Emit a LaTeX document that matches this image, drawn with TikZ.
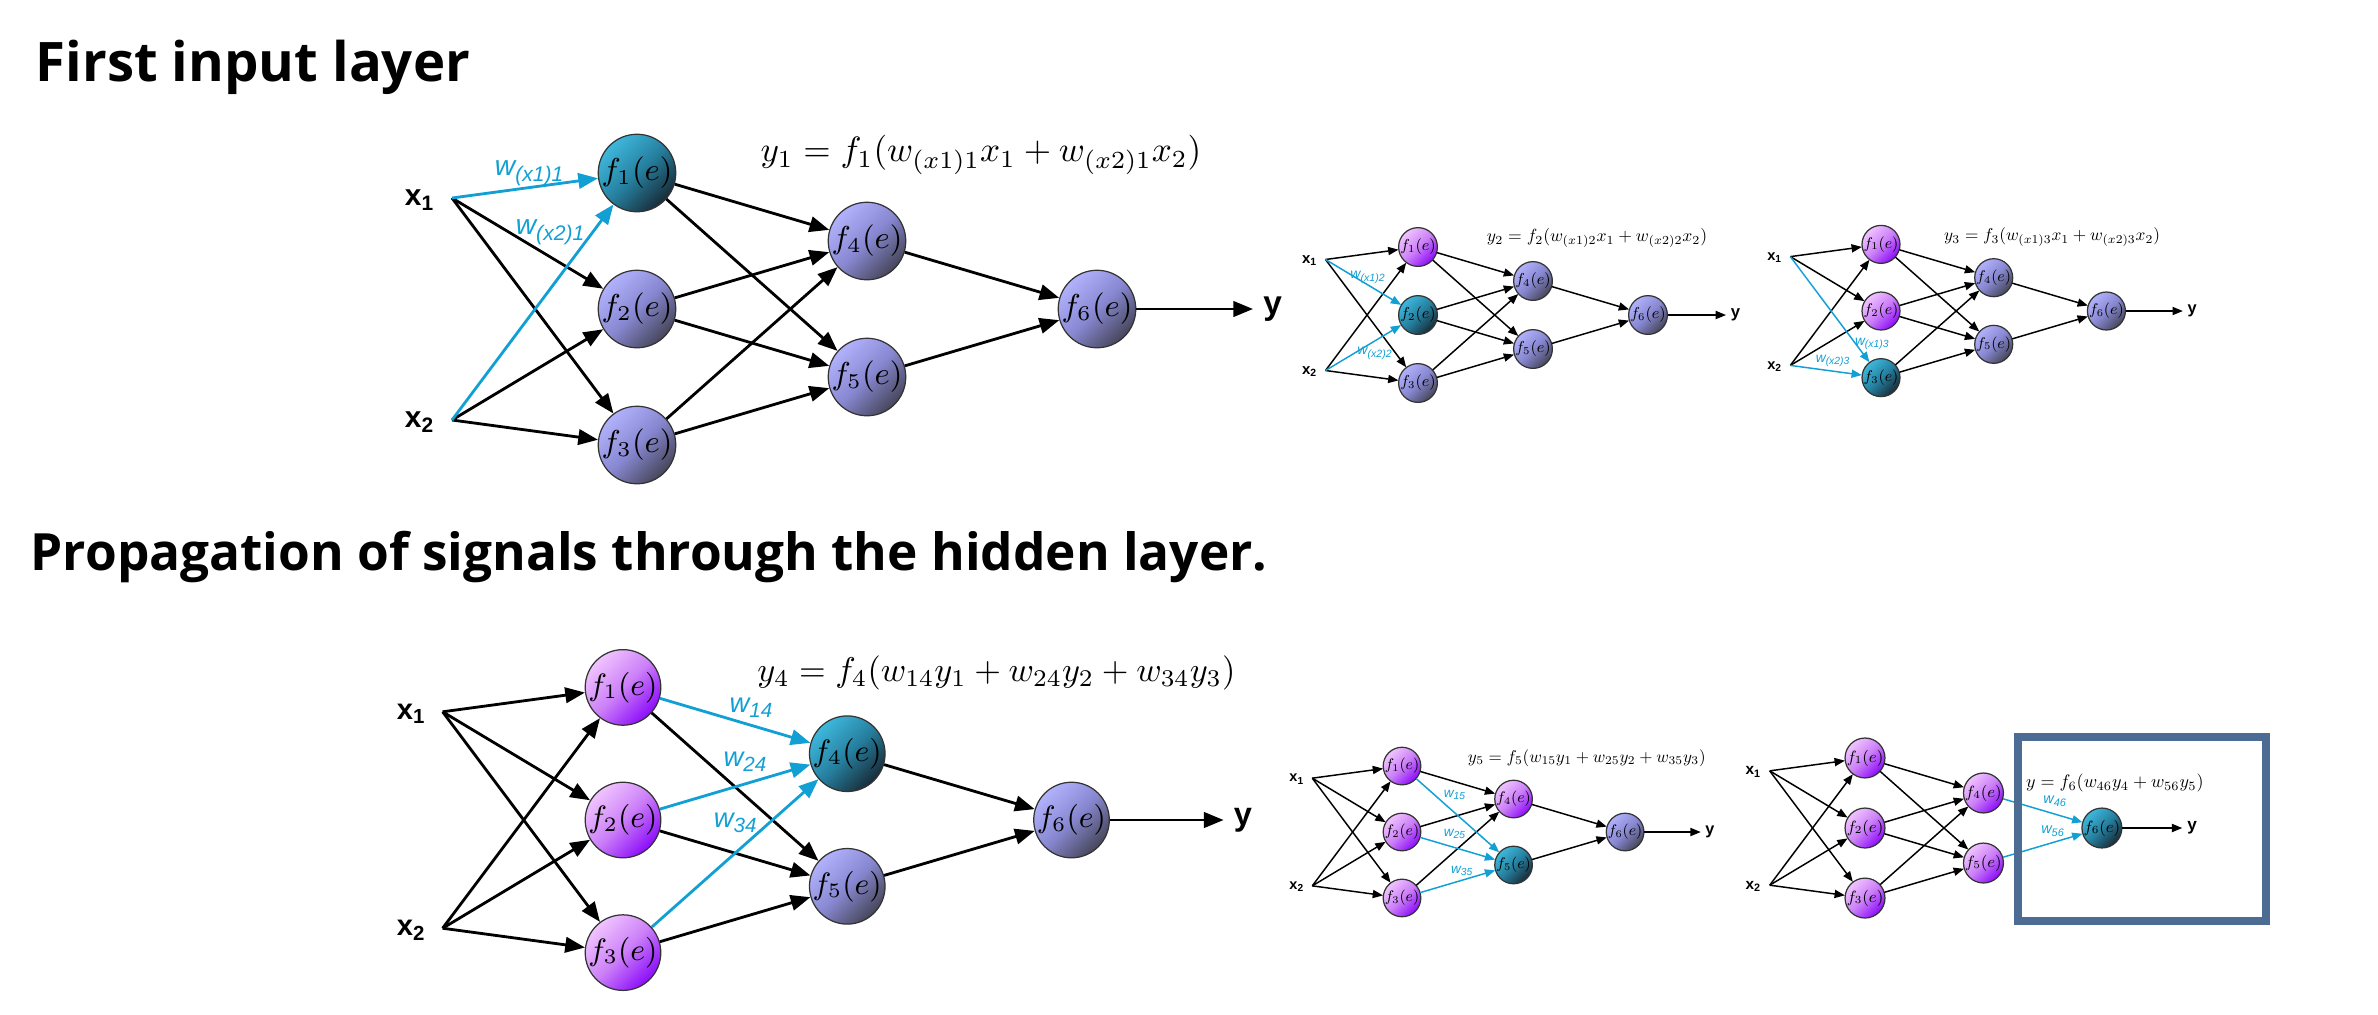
\documentclass[tikz,border=0pt]{standalone}
\usepackage{fontspec}
\usepackage{tikz}
\usetikzlibrary{arrows.meta}
\newfontfamily\headfont{Open Sans}
\newfontfamily\labfont{Liberation Sans}
\definecolor{idleA}{RGB}{178,178,252}
\definecolor{idleM}{RGB}{136,136,210}
\definecolor{idleB}{RGB}{70,70,90}
\definecolor{hotA}{RGB}{62,184,220}
\definecolor{hotM}{RGB}{38,128,160}
\definecolor{hotB}{RGB}{24,44,56}
\definecolor{doneA}{RGB}{240,196,255}
\definecolor{doneM}{RGB}{204,128,248}
\definecolor{doneB}{RGB}{140,12,250}
\definecolor{wblue}{RGB}{18,160,212}
\definecolor{framecol}{RGB}{76,108,148}

\begin{document}
\begin{tikzpicture}[x=0.01cm, y=-0.01cm,
    neuron/.style={circle, draw=black!80, line width=0.35pt, minimum size=0.73cm,
      inner sep=0pt, font=\fontsize{9}{11}\selectfont},
    idle/.style={top color=idleA, bottom color=idleB, middle color=idleM, shading angle=45},
    hot/.style={top color=hotA, bottom color=hotB, middle color=hotM, shading angle=45},
    done/.style={top color=doneA, bottom color=doneB, middle color=doneM, shading angle=45},
    wire/.style={-{Triangle[length=0pt 7, width=0pt 5.5]}, black},
    hotwire/.style={wire, wblue},
    inlabel/.style={inner sep=0pt, font=\labfont\bfseries\fontsize{8.5}{10}\selectfont},
    outlabel/.style={inner sep=0pt, anchor=west, font=\labfont\bfseries\fontsize{9.5}{11}\selectfont},
    wlabel/.style={inner sep=0pt, text=wblue, font=\labfont\itshape\fontsize{8}{9}\selectfont},
    eqn/.style={inner sep=0pt, font=\fontsize{9.6}{12}\selectfont},
    title/.style={inner sep=0pt, anchor=base west, font=\headfont\bfseries\fontsize{14.6}{17}\selectfont},
    frame/.style={draw=framecol, line width=0.08cm}]

    \useasboundingbox (0,0) rectangle (2378,1014);

    % one network, #1 = prefix, #2 = neuron being computed
    \def\net#1#2{%
        \foreach \i/\pos in {1/{(0,-136)},2/{(0,0)},3/{(0,136)},4/{(230,-68)},5/{(230,68)},6/{(460,0)}}{%
            \ifnum\i<#2 \def\look{done}\else\ifnum\i=#2 \def\look{hot}\else\def\look{idle}\fi\fi
            \node[neuron,\look] (#1-f\i) at \pos {$f_{\i}(e)$};
        }
        \coordinate (#1-x1) at (-185,-111);
        \coordinate (#1-x2) at (-185,111);
        \coordinate (#1-y) at (616,0);
        \node[inlabel] (#1-lx1) at (-217,-109) {x\textsubscript{1}};
        \node[inlabel] (#1-lx2) at (-217,113) {x\textsubscript{2}};
        \foreach \s/\t in {x1/1,x1/2,x1/3,x2/1,x2/2,x2/3,f1/4,f1/5,f2/4,f2/5,f3/4,f3/5,f4/6,f5/6}{%
            \ifnum\t=#2\relax\else\draw[wire] (#1-\s) -- (#1-f\t);\fi
        }
        \foreach \s/\t in {x1/1,x1/2,x1/3,x2/1,x2/2,x2/3,f1/4,f1/5,f2/4,f2/5,f3/4,f3/5,f4/6,f5/6}{%
            \ifnum\t=#2\relax\draw[hotwire] (#1-\s) -- (#1-f\t);\fi
        }
        \draw[wire] (#1-f6) -- (#1-y);
        \node[outlabel] (#1-ly) at ([xshift=0.09cm]#1-y) {y};
    }

    \node[title, font=\headfont\bfseries\fontsize{15.5}{18}\selectfont] (t-first) at (35,81) {First input layer};
    \node[title] (t-hidden) at (30,570) {Propagation of signals through the hidden layer.};

    % first input layer
    \begin{scope}[shift={(637,309)}, scale=1, transform shape, line width=0.8pt]
        \net{a}{1}
        \node[eqn] (a-eq) at (344,-154) {$y_1 = f_1(w_{(x1)1}x_1 + w_{(x2)1}x_2)$};
        \node[wlabel] (a-w1) at (-107,-136) {w\textsubscript{(x1)1}};
        \node[wlabel] (a-w2) at (-86,-77) {w\textsubscript{(x2)1}};
    \end{scope}

    \begin{scope}[shift={(1418,315)}, scale=0.5, transform shape, line width=0.42pt]
        \net{b}{2}
        \node[eqn] (b-eq) at (358,-154) {$y_2 = f_2(w_{(x1)2}x_1 + w_{(x2)2}x_2)$};
        \node[wlabel] (b-w1) at (-100,-76) {w\textsubscript{(x1)2}};
        \node[wlabel] (b-w2) at (-86,76) {w\textsubscript{(x2)2}};
    \end{scope}

    \begin{scope}[shift={(1881,311)}, scale=0.49, transform shape, line width=0.42pt]
        \net{c}{3}
        \node[eqn] (c-eq) at (349,-151) {$y_3 = f_3(w_{(x1)3}x_1 + w_{(x2)3}x_2)$};
        \node[wlabel] (c-w1) at (-18,67) {w\textsubscript{(x1)3}};
        \node[wlabel] (c-w2) at (-98,102) {w\textsubscript{(x2)3}};
    \end{scope}

    % hidden layer
    \begin{scope}[shift={(623,820)}, scale=0.975, transform shape, line width=0.8pt]
        \net{d}{4}
        \node[eqn] (d-eq) at (383,-151) {$y_4 = f_4(w_{14}y_1 + w_{24}y_2 + w_{34}y_3)$};
        \node[wlabel] (d-w1) at (132,-115) {w\textsubscript{14}};
        \node[wlabel] (d-w2) at (126,-60) {w\textsubscript{24}};
        \node[wlabel] (d-w3) at (116,3) {w\textsubscript{34}};
    \end{scope}

    \begin{scope}[shift={(1402,832)}, scale=0.485, transform shape, line width=0.42pt]
        \net{e}{5}
        \node[eqn] (e-eq) at (381,-153) {$y_5 = f_5(w_{15}y_1 + w_{25}y_2 + w_{35}y_3)$};
        \node[wlabel] (e-w1) at (109,-76) {w\textsubscript{15}};
        \node[wlabel] (e-w2) at (109,4) {w\textsubscript{25}};
        \node[wlabel] (e-w3) at (124,80) {w\textsubscript{35}};
    \end{scope}

    \begin{scope}[shift={(1865,828)}, scale=0.515, transform shape, line width=0.42pt]
        \net{g}{6}
        \node[eqn] (g-eq) at (485,-87) {$y = f_6(w_{46}y_4 + w_{56}y_5)$};
        \node[wlabel] (g-w1) at (369,-52) {w\textsubscript{46}};
        \node[wlabel] (g-w2) at (365,6) {w\textsubscript{56}};
    \end{scope}

    \draw[frame] (2018,737) rectangle (2266,921);
\end{tikzpicture}
\end{document}
